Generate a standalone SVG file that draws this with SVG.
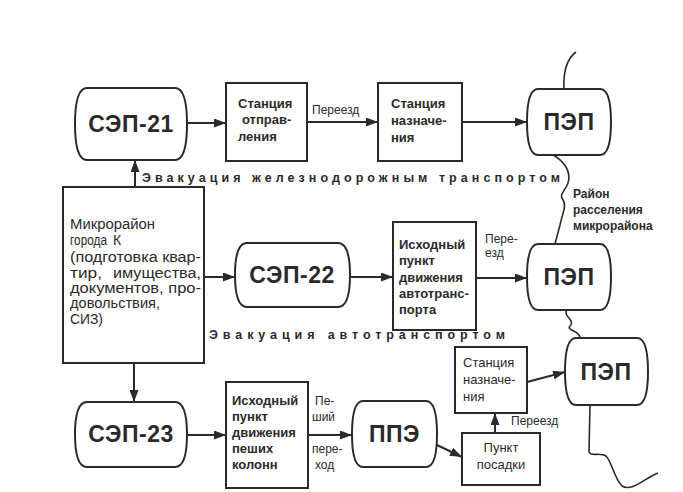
<svg xmlns="http://www.w3.org/2000/svg" width="683" height="492" viewBox="0 0 683 492">
<style>
.n{fill:#fff;stroke:#2a2a2a;stroke-width:2}
.t{font-family:"Liberation Sans",Arial,sans-serif;fill:#2a2a2a}
.big{font-size:23px;font-weight:bold;text-anchor:middle;letter-spacing:0.5px}
.bx{font-size:13px;font-weight:bold}
.rg{font-size:13px}
.mr{font-size:14px}
.lb{font-size:12px}
.cap{font-size:12.5px;font-weight:bold}
.c{fill:none;stroke:#2a2a2a;stroke-width:2}
.w{fill:none;stroke:#2a2a2a;stroke-width:1.6}
</style>
<defs>
<marker id="ah" markerUnits="userSpaceOnUse" markerWidth="12" markerHeight="9" refX="12" refY="4.5" orient="auto">
<path d="M0,0 L12,4.5 L0,9 Z" fill="#2a2a2a"/>
</marker>
</defs>
<rect width="683" height="492" fill="#fff"/>

<g id="boundary">
<path class="w" d="M564,89 C563,70 568,58 576,52"/>
<path class="w" d="M553,155 C562,160 572,170 568,183 C566,190 558,195 563,200 C567,205 562,215 560,225 L555,244"/>
<path class="w" d="M567,310 C562,316 576,320 570,326 C566,331 580,330 580,338"/>
<path class="w" d="M590,405 L589,452 C591,457 600,452 606,456 C612,462 614,478 622,486 C632,492 645,478 658,473"/>
</g>

<g id="connectors">
<path class="c" d="M187,123 H226" marker-end="url(#ah)"/>
<path class="c" d="M307,122 H378" marker-end="url(#ah)"/>
<path class="c" d="M462,122 H527" marker-end="url(#ah)"/>
<path class="c" d="M135,187 V160" marker-end="url(#ah)"/>
<path class="c" d="M204,277 H235" marker-end="url(#ah)"/>
<path class="c" d="M350,277 H393" marker-end="url(#ah)"/>
<path class="c" d="M476,278 H527" marker-end="url(#ah)"/>
<path class="c" d="M134,363 V402" marker-end="url(#ah)"/>
<path class="c" d="M187,435 H226" marker-end="url(#ah)"/>
<path class="c" d="M308,435 H352" marker-end="url(#ah)"/>
<path class="c" d="M437,445 L462,457" marker-end="url(#ah)"/>
<path class="c" d="M495,433 V413" marker-end="url(#ah)"/>
<path class="c" d="M527,382 L565,372" marker-end="url(#ah)"/>
</g>

<g id="micro">
<rect class="n" x="63" y="187" width="141" height="176"/>
<text class="t mr" x="70" y="229" textLength="85" lengthAdjust="spacingAndGlyphs">Микрорайон</text>
<text class="t mr" y="245"><tspan x="70" textLength="37" lengthAdjust="spacingAndGlyphs">города</tspan><tspan x="113">К</tspan></text>
<text class="t mr" x="70" y="262" textLength="131" lengthAdjust="spacingAndGlyphs">(подготовка квар-</text>
<text class="t mr" y="278"><tspan x="70" textLength="32" lengthAdjust="spacingAndGlyphs">тир,</tspan><tspan x="113" textLength="88" lengthAdjust="spacingAndGlyphs">имущества,</tspan></text>
<text class="t mr" x="70" y="293" textLength="131" lengthAdjust="spacingAndGlyphs">документов, про-</text>
<text class="t mr" x="70" y="308" textLength="90" lengthAdjust="spacingAndGlyphs">довольствия,</text>
<text class="t mr" x="70" y="324" textLength="33" lengthAdjust="spacingAndGlyphs">СИЗ)</text>
</g>

<g id="sep21">
<path class="n" d="M87,88 H175 Q187,88 187,124 Q187,160 175,160 H87 Q75,160 75,124 Q75,88 87,88 Z"/>
<text class="t big" x="131" y="132">СЭП-21</text>
</g>

<g id="st_otpr">
<rect class="n" x="226" y="83" width="81" height="78"/>
<text class="t bx" x="238" y="108">Станция</text>
<text class="t bx" x="242" y="124">отправ-</text>
<text class="t bx" x="238" y="141">ления</text>
</g>
<text class="t lb" x="312" y="114">Переезд</text>

<g id="st_nazn1">
<rect class="n" x="378" y="83" width="84" height="78"/>
<text class="t bx" x="391" y="108">Станция</text>
<text class="t bx" x="391" y="125">назначе-</text>
<text class="t bx" x="391" y="142">ния</text>
</g>

<g id="pep1">
<path class="n" d="M538,89 H600 Q611,89 611,122 Q611,155 600,155 H538 Q527,155 527,122 Q527,89 538,89 Z"/>
<text class="t big" x="569" y="130">ПЭП</text>
</g>

<text class="t cap" x="142" y="182" textLength="418" lengthAdjust="spacing">Эвакуация железнодорожным транспортом</text>

<text class="t lb" style="font-weight:bold"><tspan x="573" y="198">Район</tspan><tspan x="573" y="214">расселения</tspan><tspan x="573" y="230">микрорайона</tspan></text>

<g id="sep22">
<path class="n" d="M247,243 H338 Q350,243 350,275 Q350,307 338,307 H247 Q235,307 235,275 Q235,243 247,243 Z"/>
<text class="t big" x="292" y="283">СЭП-22</text>
</g>

<g id="ip_auto">
<rect class="n" x="393" y="222" width="83" height="108"/>
<text class="t bx" x="399" y="249">Исходный</text>
<text class="t bx" x="399" y="265">пункт</text>
<text class="t bx" x="399" y="282">движения</text>
<text class="t bx" x="399" y="298">автотранс-</text>
<text class="t bx" x="399" y="314">порта</text>
</g>
<text class="t lb"><tspan x="485" y="243">Пере-</tspan><tspan x="485" y="257">езд</tspan></text>

<g id="pep2">
<path class="n" d="M538,244 H600 Q611,244 611,277 Q611,310 600,310 H538 Q527,310 527,277 Q527,244 538,244 Z"/>
<text class="t big" x="569" y="285">ПЭП</text>
</g>

<text class="t cap" x="209" y="339" textLength="296" lengthAdjust="spacing">Эвакуация автотранспортом</text>

<g id="st_nazn2">
<rect class="n" x="455" y="347" width="72" height="66"/>
<text class="t rg" x="463" y="367">Станция</text>
<text class="t rg" x="463" y="384">назначе-</text>
<text class="t rg" x="463" y="401">ния</text>
</g>

<g id="pep3">
<path class="n" d="M576,338 H637 Q648,338 648,371.5 Q648,405 637,405 H576 Q565,405 565,371.5 Q565,338 576,338 Z"/>
<text class="t big" x="606" y="380">ПЭП</text>
</g>

<g id="sep23">
<path class="n" d="M87,402 H175 Q187,402 187,434.5 Q187,467 175,467 H87 Q75,467 75,434.5 Q75,402 87,402 Z"/>
<text class="t big" x="131" y="442">СЭП-23</text>
</g>

<g id="ip_pesh">
<rect class="n" x="226" y="382" width="82" height="106"/>
<text class="t bx" x="232" y="405">Исходный</text>
<text class="t bx" x="232" y="421">пункт</text>
<text class="t bx" x="232" y="437">движения</text>
<text class="t bx" x="232" y="453">пеших</text>
<text class="t bx" x="232" y="469">колонн</text>
</g>
<text class="t lb"><tspan x="315" y="405">Пе-</tspan><tspan x="312" y="421">ший</tspan><tspan x="312" y="453">пере-</tspan><tspan x="315" y="469">ход</tspan></text>

<g id="ppe">
<path class="n" d="M363,401 H426 Q437,401 437,434 Q437,467 426,467 H363 Q352,467 352,434 Q352,401 363,401 Z"/>
<text class="t big" x="394.5" y="442">ППЭ</text>
</g>

<g id="punkt_posadki">
<rect class="n" x="462" y="433" width="78" height="52"/>
<text class="t rg" x="501" y="452" text-anchor="middle">Пункт</text>
<text class="t rg" x="501" y="469" text-anchor="middle">посадки</text>
</g>
<text class="t lb" x="511" y="425">Переезд</text>
</svg>
